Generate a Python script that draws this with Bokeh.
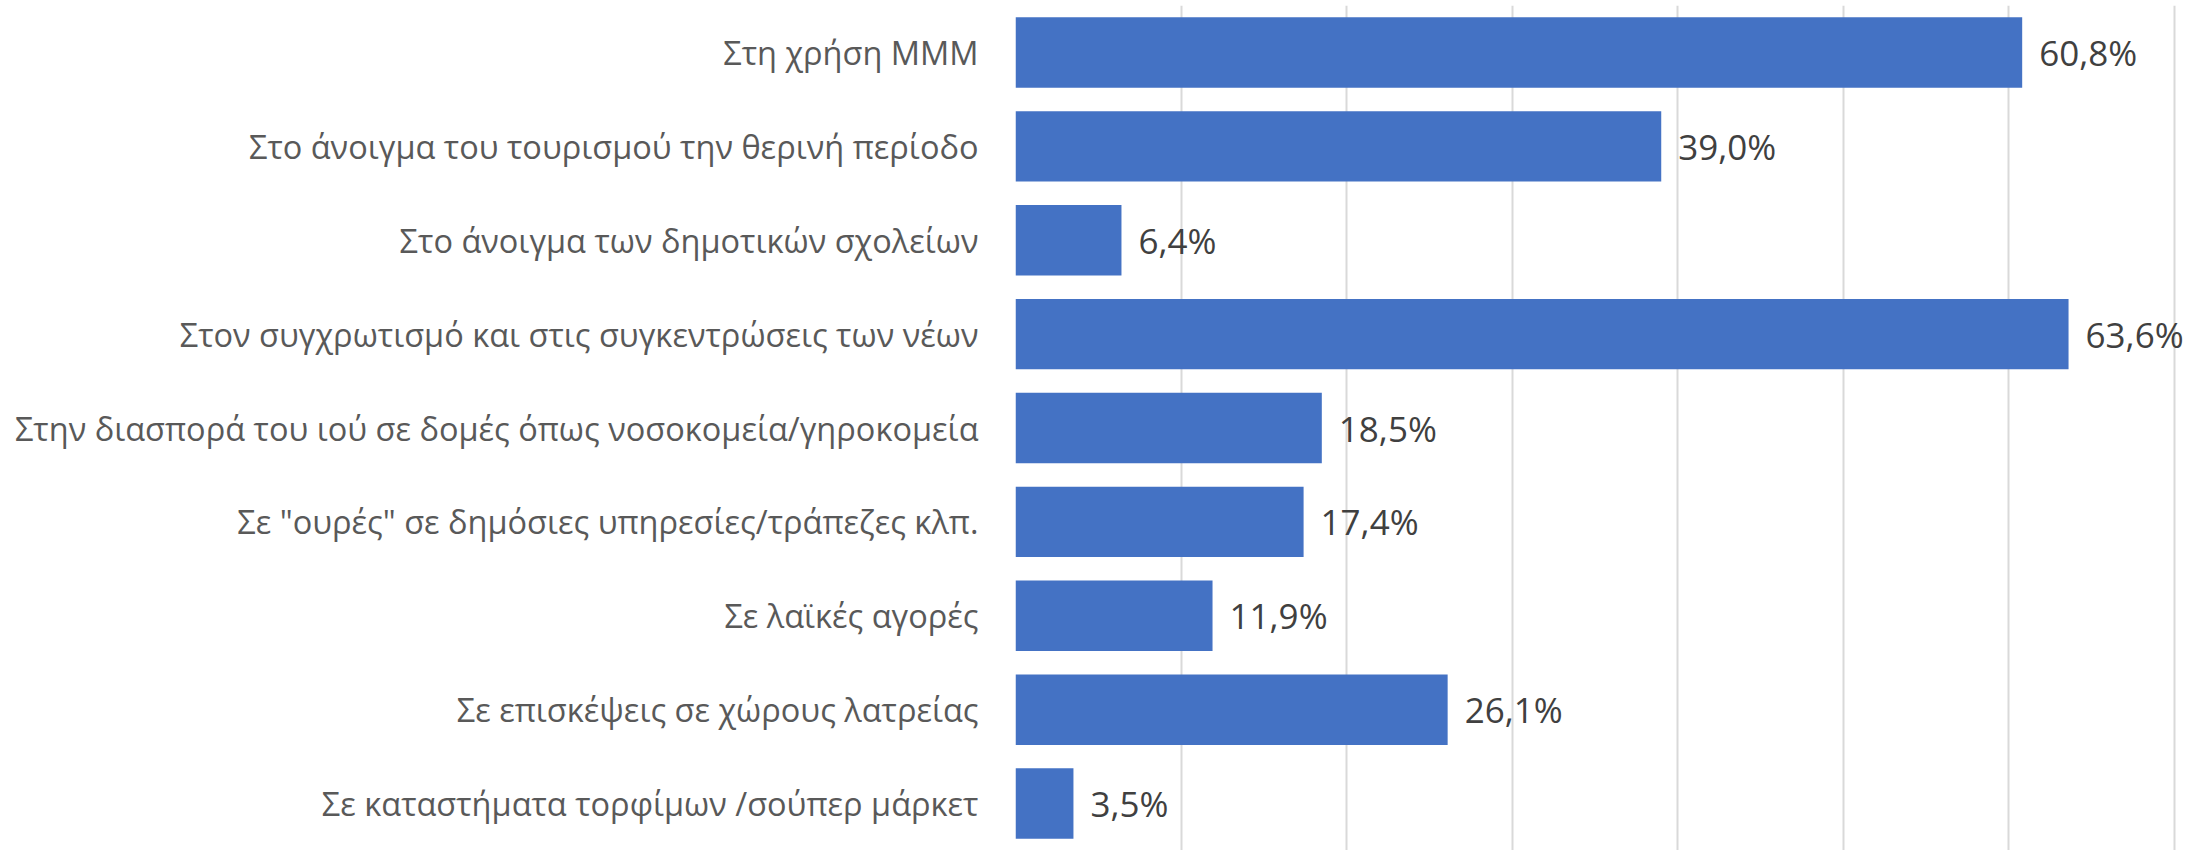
from bokeh.plotting import figure
from bokeh.models import ColumnDataSource, FactorRange, Range1d, FixedTicker
from bokeh.core.properties import value
from bokeh.embed import file_html
from bokeh.resources import INLINE

categories = [
    "Στη χρήση ΜΜΜ",
    "Στο άνοιγμα του τουρισμού την θερινή περίοδο",
    "Στο άνοιγμα των δημοτικών σχολείων",
    "Στον συγχρωτισμό και στις συγκεντρώσεις των νέων",
    "Στην διασπορά του ιού σε δομές όπως νοσοκομεία/γηροκομεία",
    "Σε \"ουρές\" σε δημόσιες υπηρεσίες/τράπεζες κλπ.",
    "Σε λαϊκές αγορές",
    "Σε επισκέψεις σε χώρους λατρείας",
    "Σε καταστήματα τορφίμων /σούπερ μάρκετ",
]
values = [60.8, 39.0, 6.4, 63.6, 18.5, 17.4, 11.9, 26.1, 3.5]
grid_ticks = [0, 10, 20, 30, 40, 50, 60, 70]

labels = [f"{v:.1f}".replace(".", ",") + "%" for v in values]
src = ColumnDataSource(dict(cat=categories, val=values, lab=labels))

p = figure(
    width=2201, height=850,
    y_range=FactorRange(factors=list(reversed(categories))),
    x_range=Range1d(0, 71.63),
    output_backend="svg", toolbar_location=None,
    min_border_left=1015, min_border_right=0,
    min_border_top=5, min_border_bottom=0,
)
p.hbar(y="cat", right="val", left=0, height=0.75, source=src,
       fill_color="#4472C4", line_color=None)
p.text(x="val", y="cat", text="lab", source=src, x_offset=17,
       text_baseline="middle", text_align="left",
       text_font=value("Open Sans"), text_font_size="35px",
       text_color="#404040")

p.xaxis.visible = False
p.xgrid.ticker = FixedTicker(ticks=grid_ticks)
p.xgrid.grid_line_color = "#D9D9D9"
p.xgrid.grid_line_width = 2
p.ygrid.grid_line_color = None

ya = p.yaxis[0]
ya.axis_line_color = None
ya.major_tick_line_color = None
ya.minor_tick_line_color = None
ya.major_label_text_font = "Open Sans"
ya.major_label_text_font_size = "32.5px"
ya.major_label_text_color = "#595959"
ya.major_label_standoff = 31

p.outline_line_color = None
p.background_fill_color = "white"
p.border_fill_color = "white"

open("out.html", "w").write(file_html(p, INLINE))
